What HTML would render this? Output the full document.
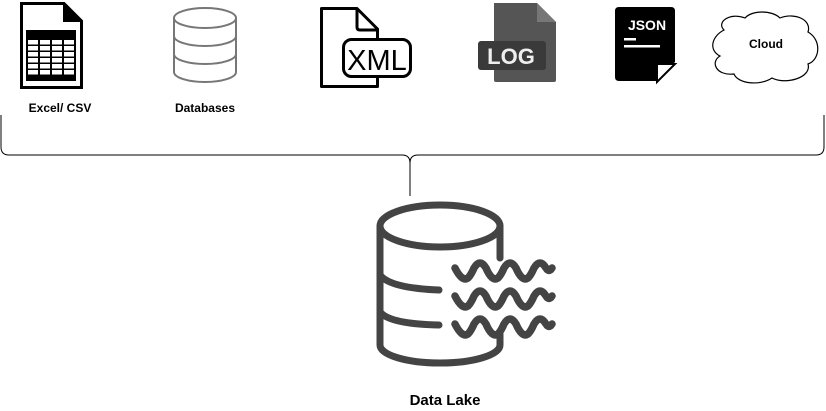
<!DOCTYPE html>
<html><head><meta charset="utf-8"><style>
html,body{margin:0;padding:0;background:#fff;}
body{width:826px;height:411px;overflow:hidden;position:relative;font-family:"Liberation Sans",sans-serif;}
</style></head><body>
<svg width="826" height="411" viewBox="0 0 826 411" xmlns="http://www.w3.org/2000/svg" style="position:absolute;left:0;top:0">
<!-- Excel -->
<path d="M21.5 3.5 H64 L81.5 21 V87.5 H21.5 Z" fill="#fff" stroke="#000" stroke-width="3"/>
<path d="M63 3 L82 22 H63 Z" fill="#000"/>
<rect x="26" y="30" width="50" height="51" fill="#000"/>
<g fill="#fff">
<rect x="28" y="40" width="10" height="4.5"/><rect x="40" y="40" width="10" height="4.5"/><rect x="52" y="40" width="10" height="4.5"/><rect x="64" y="40" width="10" height="4.5"/>
<rect x="28" y="46" width="10" height="4.5"/><rect x="40" y="46" width="10" height="4.5"/><rect x="52" y="46" width="10" height="4.5"/><rect x="64" y="46" width="10" height="4.5"/>
<rect x="28" y="52" width="10" height="4.5"/><rect x="40" y="52" width="10" height="4.5"/><rect x="52" y="52" width="10" height="4.5"/><rect x="64" y="52" width="10" height="4.5"/>
<rect x="28" y="58" width="10" height="4.5"/><rect x="40" y="58" width="10" height="4.5"/><rect x="52" y="58" width="10" height="4.5"/><rect x="64" y="58" width="10" height="4.5"/>
<rect x="28" y="64" width="10" height="4.5"/><rect x="40" y="64" width="10" height="4.5"/><rect x="52" y="64" width="10" height="4.5"/><rect x="64" y="64" width="10" height="4.5"/>
<rect x="28" y="70" width="10" height="4.5"/><rect x="40" y="70" width="10" height="4.5"/><rect x="52" y="70" width="10" height="4.5"/><rect x="64" y="70" width="10" height="4.5"/>
</g>
<!-- Database gray -->
<g fill="none" stroke="#777" stroke-width="2">
<ellipse cx="205" cy="18" rx="31" ry="10"/>
<path d="M174 18 V72 A31 10 0 0 0 236 72 V18"/>
<path d="M174 36 A31 10 0 0 0 236 36"/>
<path d="M174 54 A31 10 0 0 0 236 54"/>
</g>
<!-- XML -->
<path d="M321.5 8.5 H357 L377.5 29 V86.5 H321.5 Z" fill="#fff" stroke="#000" stroke-width="3" stroke-linejoin="round"/>
<path d="M357 8.5 V27 Q357 30 360 30 H377.5" fill="none" stroke="#000" stroke-width="3"/>
<rect x="343.5" y="39.5" width="67" height="37" rx="8" fill="#fff" stroke="#000" stroke-width="3"/>
<text x="377" y="70" text-anchor="middle" font-size="29" font-family="Liberation Sans" fill="#000">XML</text>
<!-- LOG -->
<path d="M494 3 H537 L556 22 V80 Q556 82 554 82 H496 Q494 82 494 80 Z" fill="#555"/>
<path d="M537 3 V22 H556 Z" fill="#777"/>
<rect x="478" y="41" width="68" height="29" rx="3" fill="#3a3a3a"/>
<text x="511" y="64" text-anchor="middle" font-size="22" font-weight="bold" fill="#eee">LOG</text>
<!-- JSON -->
<path d="M619 7 H671 Q675 7 675 11 V62 L656 81 H619 Q615 81 615 77 V11 Q615 7 619 7 Z" fill="#000"/>
<path d="M657 64 H675 L657 82 Z" fill="#fff" stroke="#000" stroke-width="2"/>
<text x="647" y="30" text-anchor="middle" font-size="14" font-weight="bold" fill="#fff">JSON</text>
<rect x="624" y="38" width="12" height="2.5" fill="#fff"/>
<rect x="624" y="45" width="36" height="2.5" fill="#fff"/>
<!-- Cloud -->
<path d="M724 30 C716 22 730 12 745 18 C752 10 772 10 780 18 C795 12 812 20 808 32 C822 40 820 60 808 64 C812 78 785 85 772 78 C760 86 738 84 734 74 C716 76 710 62 720 56 C708 50 712 36 724 30 Z" fill="#fff" stroke="#000" stroke-width="1.2"/>
<text x="766" y="48" text-anchor="middle" font-size="12" font-weight="bold">Cloud</text>
<!-- labels -->
<text x="60" y="112" text-anchor="middle" font-size="12" font-weight="bold">Excel/ CSV</text>
<text x="205" y="112" text-anchor="middle" font-size="12" font-weight="bold">Databases</text>
<!-- bracket -->
<path d="M1 115 V147 Q1 155 9 155 H402 Q410 155 410 163 V196 M410 163 Q410 155 418 155 H816 Q824 155 824 147 V115" fill="none" stroke="#000" stroke-width="1"/>
<!-- Data lake -->
<g fill="none" stroke="#444" stroke-width="7" stroke-linecap="round" stroke-linejoin="round">
<ellipse cx="440" cy="226" rx="60" ry="21"/>
<path d="M380 226 V345 A60 18 0 0 0 500 345 V334"/>
<path d="M500 226 V258"/>
<path d="M380 275 Q390 288 439 290"/>
<path d="M380 312 Q390 324 439 325"/>
<g stroke-width="7.5">
<path d="M455 268 Q462 282 468 278 Q471 275 474 268 Q480 258 486 268 Q492 282 498 278 Q501 275 504 268 Q510 258 516 268 Q522 282 528 278 Q531 275 534 268 Q540 258 546 268 Q549 273 552 268"/>
<path d="M455 296 Q462 310 468 306 Q471 303 474 296 Q480 286 486 296 Q492 310 498 306 Q501 303 504 296 Q510 286 516 296 Q522 310 528 306 Q531 303 534 296 Q540 286 546 296 Q549 301 552 296"/>
<path d="M455 324 Q462 338 468 334 Q471 331 474 324 Q480 314 486 324 Q492 338 498 334 Q501 331 504 324 Q510 314 516 324 Q522 338 528 334 Q531 331 534 324 Q540 314 546 324 Q549 329 552 324"/>
</g>
</g>
<text x="445" y="405" text-anchor="middle" font-size="15" font-weight="bold">Data Lake</text>
</svg>
</body></html>
